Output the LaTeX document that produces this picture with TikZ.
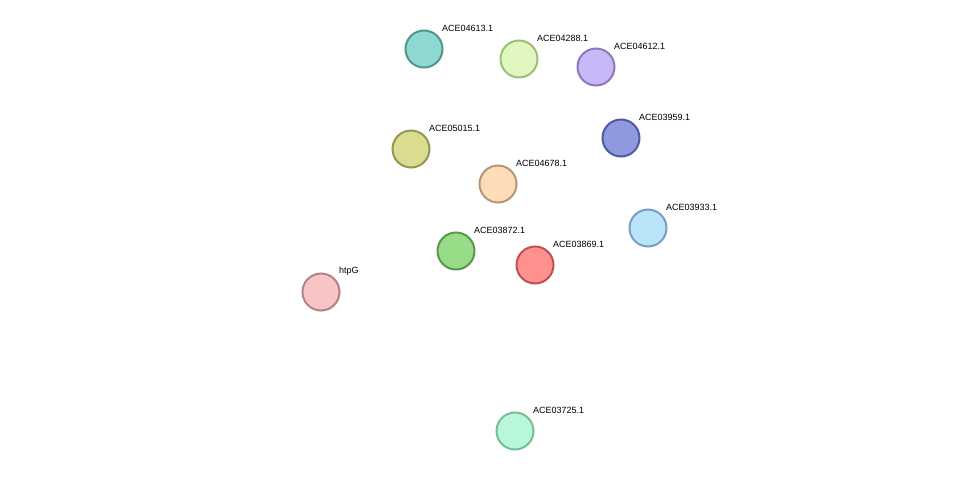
\documentclass[tikz,border=0pt]{standalone}
\usepackage{fontspec}
\setmainfont{Liberation Sans}
\usetikzlibrary{calc}
\pgfdeclarelayer{bg}\pgfsetlayers{bg,main}
\definecolor{cg}{rgb}{0.15,0.7,0.15}
\definecolor{cy}{rgb}{0.8,0.85,0.2}
\definecolor{cm}{rgb}{0.85,0.2,0.85}
\definecolor{cb}{rgb}{0.2,0.3,0.9}
\definecolor{cr}{rgb}{0.95,0.1,0.1}
\definecolor{ck}{rgb}{0.1,0.1,0.1}
\definecolor{cc}{rgb}{0.2,0.75,0.9}
\definecolor{fa}{HTML}{8FD9D3}\definecolor{da}{HTML}{50968F}
\definecolor{fb}{HTML}{E0F8C0}\definecolor{db}{HTML}{A0BE78}
\definecolor{fc}{HTML}{C8B8F8}\definecolor{dc}{HTML}{8C78BE}
\definecolor{fd}{HTML}{9098E0}\definecolor{dd}{HTML}{505AA0}
\definecolor{fe}{HTML}{DCDC90}\definecolor{de}{HTML}{969650}
\definecolor{ff}{HTML}{FFDCB8}\definecolor{df}{HTML}{B49678}
\definecolor{fg}{HTML}{B8E4F8}\definecolor{dg}{HTML}{78A0BE}
\definecolor{fh}{HTML}{98DC88}\definecolor{dh}{HTML}{5A9650}
\definecolor{fi}{HTML}{FF9090}\definecolor{di}{HTML}{BE5050}
\definecolor{fj}{HTML}{F8C4C4}\definecolor{dj}{HTML}{B48282}
\definecolor{fk}{HTML}{B8F8D8}\definecolor{dk}{HTML}{78BE96}
\newcommand\edg[3]{\begin{pgfonlayer}{bg}\foreach \c [count=\i] in {#3}{%
 \pgfmathsetmacro\o{(\i-1)*1.2-3}%
 \draw[draw=\c,line width=0.7pt] ($(#1)!\o pt!90:(#2)$) -- ($(#2)!\o pt!-90:(#1)$);}\end{pgfonlayer}}
\tikzset{prot/.style={circle,minimum size=37pt,inner sep=0,line width=2pt},
 lab/.style={anchor=west,font=\fontsize{9pt}{10pt}\selectfont,inner sep=0}}
\begin{document}
\begin{tikzpicture}[x=1pt,y=-1pt]
\useasboundingbox (0,0) rectangle (975,477);
\fill[white] (0,0) rectangle (975,477);
\newcommand\prot[4]{\node[prot,fill=f#1,draw=d#1] (#1) at (#2,#3) {};
 \node[lab] (#1l) at (#2+18,#3-21) {#4};}
\prot{a}{424}{49}{ACE04613.1}
\prot{b}{519}{59}{ACE04288.1}
\prot{c}{596}{67}{ACE04612.1}
\prot{d}{621}{138}{ACE03959.1}
\prot{e}{411}{149}{ACE05015.1}
\prot{f}{498}{184}{ACE04678.1}
\prot{g}{648}{228}{ACE03933.1}
\prot{h}{456}{251}{ACE03872.1}
\prot{i}{535}{265}{ACE03869.1}
\prot{j}{321}{292}{htpG}
\prot{k}{515}{431}{ACE03725.1}
\edg{a}{b}{cy,cm,cr,cb,cg,cc}
\edg{a}{c}{cy,cm,cr,cb,cg}
\edg{b}{c}{cy,cm,cr,cb,cg}
\edg{a}{d}{cy,cg,cb,cm}
\edg{a}{e}{cy,cm,cb,cg,cc}
\edg{a}{f}{cy,cm,cr,cb,ck,cg}
\edg{a}{h}{cy,cm,cb,cg}
\edg{a}{i}{cy,cm,cg}
\edg{a}{g}{cy,cg}
\edg{b}{d}{cy,cg,cm}
\edg{b}{e}{cy,cg,cm,cb}
\edg{b}{f}{cy,cm,cr,cb,cg}
\edg{b}{h}{cy,cm,cb,cg}
\edg{b}{i}{cy,cm,cg}
\edg{b}{g}{cy,cg}
\edg{c}{d}{cy,cm,cr,cb,cg}
\edg{c}{e}{cy,cg,cm,cb}
\edg{c}{f}{cy,cm,cb,ck,cg}
\edg{c}{h}{cy,cm,cb,cg}
\edg{c}{i}{cy,cm,cg}
\edg{c}{g}{cy,cg,cm}
\edg{d}{e}{cy,ck,cm,cg}
\edg{d}{f}{cy,cm,cb,cg}
\edg{d}{h}{cy,cm,cg}
\edg{d}{i}{cy,cm,cg}
\edg{d}{g}{cy,cm,cr,cg}
\edg{e}{f}{cy,cm,cr,cb,ck,cg}
\edg{e}{h}{cy,cm,cb,cg,cc}
\edg{e}{i}{cy,cm,cg}
\edg{e}{g}{cy,cm,cg}
\edg{f}{g}{cy,cm,cr,cb,ck,cg}
\edg{f}{h}{cy,cm,cr,cb,ck,cg}
\edg{f}{i}{cy,cm,cr,cb,cg}
\edg{h}{i}{cy,cm,cr,cb,ck,cg}
\edg{h}{g}{cy,cm,cb,cg}
\edg{i}{g}{cy,cm,cb,cg}
\edg{j}{e}{cg,cy,cc}
\edg{j}{f}{cg,cy}
\edg{j}{h}{cg,cy,cm,cb,cc}
\edg{j}{i}{cg,cy,cm,cb,cc}
\edg{k}{h}{cg,cy,cm,cc,cb}
\edg{k}{f}{cg,cy,cm,cc}
\edg{k}{i}{cg,cy,cc}
\end{tikzpicture}
\end{document}
